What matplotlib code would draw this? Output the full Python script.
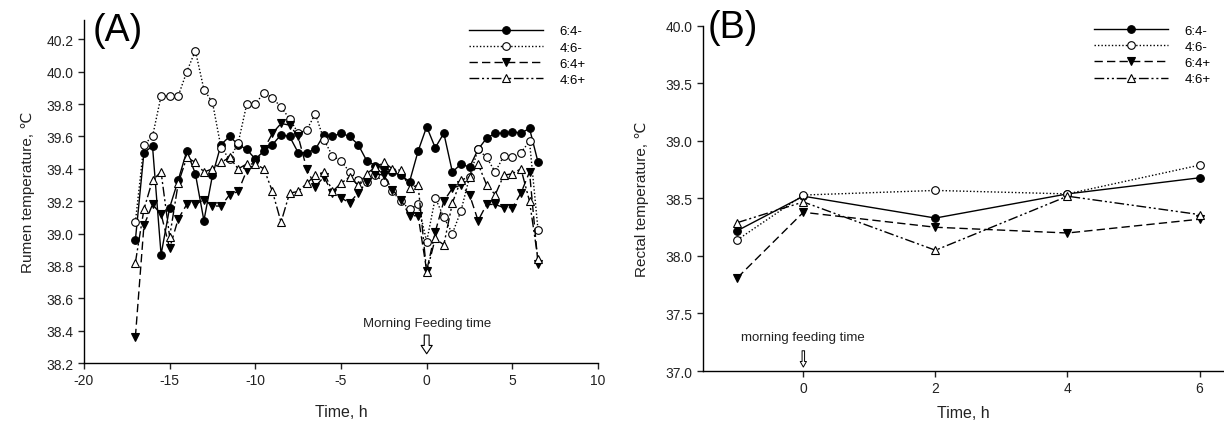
import numpy as np
import matplotlib
matplotlib.use("Agg")
import matplotlib.pyplot as plt

plt.rcParams['font.family'] = ['Liberation Sans', 'DejaVu Sans']
plt.rcParams['axes.unicode_minus'] = False

# (A) temperatura ruminal, cada 0.5 h
horas_a = [-17, -16.5, -16, -15.5, -15, -14.5, -14, -13.5, -13, -12.5, -12, -11.5,
           -11, -10.5, -10, -9.5, -9, -8.5, -8, -7.5, -7, -6.5, -6, -5.5,
           -5, -4.5, -4, -3.5, -3, -2.5, -2, -1.5, -1, -0.5, 0, 0.5,
           1, 1.5, 2, 2.5, 3, 3.5, 4, 4.5, 5, 5.5, 6, 6.5]

rumen_64m = [38.96, 39.50, 39.54, 38.87, 39.16, 39.33, 39.51, 39.37, 39.08, 39.36, 39.55, 39.60,
             39.55, 39.52, 39.46, 39.51, 39.55, 39.61, 39.60, 39.50, 39.50, 39.52, 39.61, 39.60,
             39.62, 39.60, 39.55, 39.45, 39.42, 39.41, 39.38, 39.36, 39.32, 39.51, 39.66, 39.53,
             39.62, 39.38, 39.43, 39.41, 39.52, 39.59, 39.62, 39.62, 39.63, 39.62, 39.65, 39.44]
rumen_46m = [39.07, 39.55, 39.60, 39.85, 39.85, 39.85, 40.00, 40.13, 39.89, 39.81, 39.53, 39.46,
             39.56, 39.80, 39.80, 39.87, 39.84, 39.78, 39.71, 39.62, 39.64, 39.74, 39.58, 39.48,
             39.45, 39.38, 39.33, 39.32, 39.36, 39.32, 39.26, 39.20, 39.15, 39.18, 38.95, 39.22,
             39.10, 39.00, 39.14, 39.35, 39.52, 39.47, 39.38, 39.48, 39.47, 39.50, 39.57, 39.02]
rumen_64p = [38.36, 39.05, 39.18, 39.12, 38.91, 39.09, 39.18, 39.18, 39.21, 39.17, 39.17, 39.24,
             39.26, 39.39, 39.43, 39.52, 39.62, 39.68, 39.67, 39.60, 39.40, 39.29, 39.35, 39.25,
             39.22, 39.19, 39.25, 39.32, 39.37, 39.36, 39.27, 39.21, 39.11, 39.11, 38.77, 39.01,
             39.20, 39.28, 39.30, 39.24, 39.08, 39.18, 39.18, 39.16, 39.16, 39.25, 39.38, 38.81]
rumen_46p = [38.82, 39.15, 39.33, 39.38, 38.98, 39.31, 39.47, 39.44, 39.38, 39.40, 39.44, 39.47,
             39.40, 39.43, 39.43, 39.40, 39.26, 39.07, 39.25, 39.26, 39.31, 39.36, 39.38, 39.26,
             39.31, 39.35, 39.30, 39.37, 39.41, 39.44, 39.40, 39.39, 39.28, 39.30, 38.76, 38.97,
             38.93, 39.19, 39.33, 39.35, 39.43, 39.30, 39.24, 39.36, 39.37, 39.40, 39.20, 38.84]

# (B) temperatura rectal
horas_b = [-1, 0, 2, 4, 6]
rectal_64m = [38.22, 38.52, 38.33, 38.54, 38.68]
rectal_46m = [38.14, 38.53, 38.57, 38.54, 38.79]
rectal_64p = [37.81, 38.38, 38.25, 38.20, 38.32]
rectal_46p = [38.29, 38.47, 38.05, 38.52, 38.36]

etiquetas = ["6:4-", "4:6-", "6:4+", "4:6+"]
ticks_a_y = ["38.2", "38.4", "38.6", "38.8", "39.0", "39.2", "39.4", "39.6", "39.8", "40.0", "40.2"]
ticks_b_y = ["37.0", "37.5", "38.0", "38.5", "39.0", "39.5", "40.0"]

# estilo de cada serie: linea, marcador, relleno
estilos = [
    dict(linestyle='-', marker='o', markerfacecolor='black'),
    dict(linestyle=(0, (1, 1.5)), marker='o', markerfacecolor='white'),
    dict(linestyle=(0, (6, 3)), marker='v', markerfacecolor='black'),
    dict(linestyle=(0, (7, 2, 1.5, 2, 1.5, 2)), marker='^', markerfacecolor='white'),
]


def estilo_ejes(ax):
    ax.spines['top'].set_visible(False)
    ax.spines['right'].set_visible(False)
    ax.spines['left'].set_linewidth(1.0)
    ax.spines['bottom'].set_linewidth(1.0)
    ax.tick_params(direction='out', length=4, width=1, labelsize=10, colors='#222222')


fig = plt.figure(figsize=(12.24, 4.27), dpi=100)

# ---------------- Panel A ----------------
axA = fig.add_axes([0.0686, 0.1475, 0.4200, 0.8035])
series_a = [rumen_64m, rumen_46m, rumen_64p, rumen_46p]
for datos, est, lab in zip(series_a, estilos, etiquetas):
    axA.plot(horas_a, datos, color='black', linewidth=1.0, markersize=5.5,
             markeredgecolor='black', markeredgewidth=0.8, label=lab, **est)
axA.set_xlim(-20, 10)
axA.set_ylim(38.2, 40.32)
axA.set_xticks([-20, -15, -10, -5, 0, 5, 10])
axA.set_yticks([float(t) for t in ticks_a_y])
axA.set_yticklabels(ticks_a_y)
estilo_ejes(axA)
axA.set_xlabel("Time, h", fontsize=11.5, color='#222222', labelpad=12)
axA.set_ylabel("Rumen temperature, ℃", fontsize=11, color='#222222', labelpad=8)
axA.annotate("", xy=(0, 38.24), xytext=(0, 38.39),
             arrowprops=dict(arrowstyle="simple,head_width=0.8,head_length=0.6,tail_width=0.35",
                             fc='white', ec='black', lw=0.8))
axA.text(0, 38.41, "Morning Feeding time", ha='center', va='bottom', fontsize=9.5, color='#222222')
axA.text(-19.5, 40.37, "(A)", fontsize=27, ha='left', va='top')
axA.legend(loc='upper left', bbox_to_anchor=(0.738, 1.0), frameon=False, fontsize=9.5,
           handlelength=5.6, handletextpad=1.3, labelspacing=0.3, borderaxespad=0.0)

# ---------------- Panel B ----------------
axB = fig.add_axes([0.5743, 0.1288, 0.4257, 0.8080])
series_b = [rectal_64m, rectal_46m, rectal_64p, rectal_46p]
for datos, est, lab in zip(series_b, estilos, etiquetas):
    axB.plot(horas_b, datos, color='black', linewidth=1.0, markersize=5.5,
             markeredgecolor='black', markeredgewidth=0.8, label=lab, **est)
axB.set_xlim(-1.52, 6.37)
axB.set_ylim(37.0, 40.0)
axB.set_xticks([0, 2, 4, 6])
axB.set_yticks([float(t) for t in ticks_b_y])
axB.set_yticklabels(ticks_b_y)
estilo_ejes(axB)
axB.set_xlabel("Time, h", fontsize=11.5, color='#222222', labelpad=7)
axB.set_ylabel("Rectal temperature, ℃", fontsize=11, color='#222222', labelpad=12)
axB.annotate("", xy=(0, 37.01), xytext=(0, 37.2),
             arrowprops=dict(arrowstyle="simple,head_width=0.45,head_length=0.4,tail_width=0.18",
                             fc='white', ec='black', lw=0.7))
axB.text(0, 37.24, "morning feeding time", ha='center', va='bottom', fontsize=9.5, color='#222222')
axB.text(-1.45, 40.15, "(B)", fontsize=27, ha='left', va='top')
axB.legend(loc='upper left', bbox_to_anchor=(0.74, 1.02), frameon=False, fontsize=9.5,
           handlelength=5.6, handletextpad=1.3, labelspacing=0.3, borderaxespad=0.0)

fig.savefig("out.png", dpi=100)
